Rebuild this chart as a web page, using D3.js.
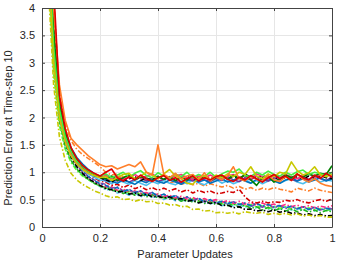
<!DOCTYPE html>
<html><head><meta charset="utf-8">
<script src="https://cdn.jsdelivr.net/npm/d3@7"></script>
<style>html,body{margin:0;padding:0;background:#fff;}svg{display:block;}</style>
</head><body>
<svg id="chart" width="341" height="263"></svg>
<script>
// ---- data ----
const xValues = [0.02,0.04,0.06,0.08,0.10,0.12,0.14,0.16,0.18,0.20,
  0.22,0.24,0.26,0.28,0.30,0.32,0.34,0.36,0.38,0.40,
  0.42,0.44,0.46,0.48,0.50,0.52,0.54,0.56,0.58,0.60,
  0.62,0.64,0.66,0.68,0.70,0.72,0.74,0.76,0.78,0.80,
  0.82,0.84,0.86,0.88,0.90,0.92,0.94,0.96,0.98,1.00];
const xTicks = [0,0.2,0.4,0.6,0.8,1];
const xTickLabels = ["0","0.2","0.4","0.6","0.8","1"];
const yTicks = [0,0.5,1,1.5,2,2.5,3,3.5,4];
const yTickLabels = ["0","0.5","1","1.5","2","2.5","3","3.5","4"];

// upper group
const redSolid = [7.5,4.4,2.4,1.8,1.45,1.25,1.12,1.04,0.98,0.93,
  1.0,1.06,0.9,0.84,0.92,0.86,0.95,0.88,0.83,0.9,
  0.94,0.85,0.9,0.82,0.88,0.93,0.84,0.9,0.86,0.92,
  0.95,0.87,0.83,0.91,0.86,0.94,0.88,0.82,0.9,0.96,
  0.88,0.93,0.85,0.97,0.9,0.86,0.95,0.89,0.98,0.91];
const orangeSolid = [6.8,4.0,2.6,1.95,1.62,1.5,1.4,1.3,1.22,1.14,
  1.1,1.12,1.06,1.1,1.14,1.1,1.19,1.0,0.95,1.5,
  0.96,0.9,0.98,0.88,0.93,0.96,0.86,0.99,0.84,0.92,
  0.86,0.94,1.1,0.88,0.84,0.93,0.87,0.83,0.94,0.86,
  0.83,0.92,0.85,0.97,0.87,0.82,0.88,0.8,0.76,0.74];
const yellowSolid = [5.2,3.0,2.0,1.55,1.3,1.15,1.05,0.98,0.94,0.9,
  0.92,0.85,0.9,0.96,0.98,0.88,0.93,1.0,0.95,0.88,
  0.97,1.05,0.93,0.88,0.8,0.78,0.9,0.94,0.86,0.95,
  0.9,0.97,0.92,1.0,0.96,1.1,0.93,0.88,0.97,0.92,
  1.0,0.97,1.19,1.03,0.95,0.99,1.1,0.95,0.92,0.96];
const limeSolid = [5.6,3.3,2.15,1.65,1.38,1.2,1.1,1.02,0.97,0.93,
  0.97,0.9,0.95,1.0,0.91,0.98,1.03,0.94,0.9,0.99,
  0.93,0.89,0.97,0.92,1.0,0.9,0.96,0.92,1.0,0.91,
  0.97,1.02,1.0,1.06,0.94,0.92,1.0,0.95,1.02,0.96,
  0.93,1.0,0.95,1.01,1.04,0.96,1.0,0.97,0.94,1.0];
const darkGreenSolid = [6.0,3.6,2.25,1.7,1.4,1.22,1.1,1.02,0.96,0.92,
  0.88,0.93,0.85,0.9,0.95,0.86,0.92,0.89,0.84,0.93,
  0.87,0.92,0.85,0.91,0.86,0.94,0.88,0.93,0.85,0.9,
  0.93,0.87,0.94,0.89,0.95,0.86,0.76,0.9,0.93,0.82,
  0.88,0.95,0.9,0.96,0.91,0.97,0.93,0.98,0.96,1.12];
const blackDashed = [6.2,3.7,2.3,1.72,1.42,1.23,1.1,1.0,0.94,0.9,
  0.86,0.82,0.9,0.84,0.88,0.92,0.85,0.89,0.86,0.92,
  0.87,0.91,0.85,0.9,0.93,0.86,0.91,0.94,0.88,0.92,
  0.95,0.89,0.93,0.87,0.96,0.92,0.88,0.94,0.9,0.87,
  0.93,0.89,0.86,0.92,0.88,0.93,0.89,0.94,0.9,0.88];
const blueSolid = [5.9,3.5,2.3,1.75,1.45,1.27,1.15,1.05,0.98,0.92,
  0.86,0.83,0.8,0.86,0.82,0.78,0.85,0.81,0.87,0.83,
  0.8,0.86,0.82,0.78,0.84,0.88,0.82,0.86,0.8,0.84,
  0.88,0.82,0.86,0.9,0.84,0.8,0.87,0.83,0.88,0.84,
  0.8,0.86,0.9,0.84,0.88,0.82,0.86,0.9,0.84,0.88];
const pinkSolid = [5.4,3.2,2.1,1.6,1.35,1.18,1.08,1.0,0.95,0.91,
  0.94,0.88,0.93,0.87,0.9,0.96,0.89,0.93,0.97,0.9,
  0.94,0.88,0.93,0.96,0.9,0.87,0.93,0.89,0.95,0.9,
  0.87,0.93,0.96,0.9,0.94,0.88,0.97,0.92,0.88,0.94,
  0.9,0.96,0.92,0.88,0.94,0.97,0.91,0.95,0.98,0.93];
const purpleSolid = [5.7,3.4,2.2,1.68,1.4,1.22,1.1,1.02,0.96,0.91,
  0.85,0.9,0.84,0.88,0.82,0.87,0.92,0.84,0.89,0.83,
  0.87,0.91,0.84,0.8,0.89,0.84,0.9,0.86,0.83,0.89,
  0.85,0.92,0.86,0.83,0.9,0.86,0.93,0.87,0.84,0.9,
  0.86,0.92,0.87,0.84,0.91,0.87,0.93,0.88,0.85,0.91];
const cyanSolid = [5.3,3.1,2.05,1.58,1.32,1.16,1.05,0.97,0.91,0.86,
  0.84,0.79,0.86,0.82,0.78,0.85,0.8,0.76,0.83,0.79,
  0.85,0.8,0.77,0.84,0.79,0.86,0.81,0.77,0.84,0.87,
  0.8,0.85,0.79,0.83,0.88,0.8,0.85,0.79,0.84,0.87,
  0.8,0.85,0.88,0.82,0.79,0.85,0.88,0.82,0.86,0.84];

// lower group
const redDashDot = [7.0,4.2,2.3,1.7,1.38,1.2,1.08,0.98,0.9,0.84,
  0.82,0.76,0.78,0.72,0.77,0.7,0.74,0.68,0.72,0.67,
  0.71,0.66,0.7,0.64,0.68,0.62,0.67,0.63,0.66,0.61,
  0.62,0.65,0.63,0.69,0.55,0.46,0.44,0.47,0.44,0.46,
  0.45,0.49,0.47,0.5,0.46,0.44,0.48,0.5,0.47,0.51];
const orangeDashDot = [6.5,3.9,2.5,1.88,1.58,1.42,1.32,1.25,1.18,1.1,
  1.0,0.95,0.97,0.91,0.93,0.88,0.9,0.84,0.88,0.83,
  0.86,0.8,0.84,0.78,0.81,0.77,0.8,0.75,0.79,0.76,
  0.73,0.76,0.71,0.74,0.69,0.72,0.67,0.71,0.68,0.72,
  0.69,0.67,0.64,0.71,0.68,0.66,0.71,0.67,0.65,0.63];
const yellowDashDot = [4.6,2.6,1.65,1.22,0.98,0.86,0.78,0.72,0.66,0.62,
  0.57,0.54,0.55,0.5,0.51,0.47,0.5,0.46,0.47,0.43,
  0.44,0.4,0.41,0.37,0.38,0.32,0.33,0.29,0.3,0.26,
  0.27,0.25,0.27,0.24,0.28,0.26,0.25,0.27,0.23,0.25,
  0.23,0.25,0.22,0.24,0.2,0.22,0.19,0.21,0.18,0.18];
const blackDashDot = [5.5,3.2,2.05,1.55,1.28,1.1,0.98,0.88,0.82,0.76,
  0.7,0.68,0.64,0.65,0.6,0.62,0.57,0.6,0.55,0.56,
  0.53,0.55,0.5,0.52,0.47,0.49,0.44,0.47,0.43,0.45,
  0.39,0.4,0.35,0.37,0.32,0.33,0.29,0.31,0.28,0.31,
  0.27,0.29,0.25,0.26,0.22,0.24,0.21,0.23,0.2,0.21];
const blueDashDot = [5.8,3.4,2.2,1.62,1.33,1.15,1.02,0.92,0.85,0.79,
  0.76,0.7,0.72,0.65,0.68,0.63,0.66,0.58,0.63,0.56,
  0.6,0.54,0.57,0.5,0.55,0.48,0.52,0.46,0.5,0.44,
  0.47,0.43,0.46,0.41,0.44,0.39,0.43,0.38,0.41,0.37,
  0.39,0.35,0.38,0.33,0.37,0.32,0.36,0.31,0.34,0.32];
const pinkDashDot = [5.6,3.3,2.15,1.6,1.3,1.13,1.0,0.91,0.84,0.78,
  0.73,0.74,0.67,0.69,0.64,0.66,0.61,0.63,0.58,0.6,
  0.56,0.58,0.53,0.56,0.51,0.54,0.49,0.52,0.47,0.5,
  0.45,0.48,0.43,0.47,0.42,0.45,0.4,0.44,0.39,0.42,
  0.38,0.41,0.37,0.4,0.36,0.39,0.35,0.38,0.36,0.39];
const greenDashDot = [5.2,3.0,1.95,1.48,1.22,1.06,0.95,0.87,0.8,0.75,
  0.72,0.66,0.68,0.61,0.65,0.58,0.62,0.55,0.59,0.53,
  0.55,0.51,0.53,0.47,0.52,0.45,0.48,0.43,0.46,0.41,
  0.44,0.39,0.42,0.36,0.4,0.34,0.37,0.31,0.36,0.3,
  0.34,0.29,0.33,0.28,0.32,0.27,0.31,0.26,0.3,0.28];
const limeDashDot = [4.9,2.8,1.85,1.42,1.18,1.03,0.93,0.86,0.8,0.75,
  0.7,0.72,0.65,0.68,0.61,0.66,0.59,0.62,0.55,0.6,
  0.53,0.56,0.51,0.54,0.47,0.52,0.45,0.5,0.43,0.48,
  0.42,0.45,0.4,0.43,0.38,0.41,0.36,0.39,0.34,0.37,
  0.34,0.37,0.32,0.36,0.31,0.35,0.3,0.34,0.3,0.33];
const purpleDashDot = [5.7,3.35,2.2,1.64,1.34,1.16,1.03,0.93,0.86,0.8,
  0.78,0.71,0.73,0.66,0.69,0.62,0.66,0.6,0.63,0.56,
  0.6,0.53,0.58,0.5,0.55,0.48,0.53,0.46,0.5,0.44,
  0.47,0.42,0.46,0.4,0.43,0.38,0.42,0.36,0.41,0.35,
  0.39,0.34,0.38,0.33,0.37,0.32,0.36,0.31,0.35,0.33];
const cyanDashDot = [5.1,2.95,1.9,1.45,1.2,1.05,0.95,0.87,0.8,0.74,
  0.68,0.69,0.62,0.65,0.58,0.63,0.55,0.59,0.53,0.57,
  0.5,0.55,0.48,0.51,0.46,0.5,0.44,0.47,0.42,0.46,
  0.39,0.43,0.38,0.41,0.36,0.39,0.34,0.38,0.33,0.36,
  0.33,0.36,0.31,0.35,0.3,0.34,0.29,0.33,0.3,0.32];

// ---- styles (separate from data) ----
const DASHDOT = "5,2,1.5,2", DASHED = "4,2.5";
const seriesList = [
  {values: cyanDashDot,   color: "#4DBEEE", dash: DASHDOT},
  {values: limeDashDot,   color: "#66ff33", dash: DASHDOT},
  {values: greenDashDot,  color: "#1fb51f", dash: DASHDOT},
  {values: purpleDashDot, color: "#8e44ad", dash: DASHDOT},
  {values: pinkDashDot,   color: "#ff2a7f", dash: DASHDOT},
  {values: blueDashDot,   color: "#0072BD", dash: DASHDOT},
  {values: blackDashDot,  color: "#000000", dash: DASHDOT},
  {values: yellowDashDot, color: "#c8c800", dash: DASHDOT},
  {values: orangeDashDot, color: "#ff7f2a", dash: DASHDOT},
  {values: redDashDot,    color: "#d40000", dash: DASHDOT},
  {values: cyanSolid,     color: "#4DBEEE", dash: null},
  {values: purpleSolid,   color: "#7E2F8E", dash: null},
  {values: blueSolid,     color: "#0072BD", dash: null},
  {values: blackDashed,   color: "#000000", dash: DASHED},
  {values: pinkSolid,     color: "#ff2a7f", dash: null},
  {values: darkGreenSolid,color: "#008000", dash: null},
  {values: limeSolid,     color: "#44ee44", dash: null},
  {values: yellowSolid,   color: "#c8c800", dash: null},
  {values: orangeSolid,   color: "#ff7f2a", dash: null},
  {values: redSolid,      color: "#e00000", dash: null}
];

// ---- layout ----
const svg = d3.select("#chart");
const mLeft = 42, mRight = 332, mTop = 8, mBottom = 227;
const x = d3.scaleLinear().domain([0,1]).range([mLeft,mRight]);
const y = d3.scaleLinear().domain([0,4]).range([mBottom,mTop]);
const font = "'Liberation Sans', Arial, sans-serif";
const axisColor = "#444";
const textColor = "#262626";

// grid
const grid = svg.append("g");
grid.selectAll("line.gx").data(xTicks).join("line")
  .attr("x1", d=>x(d)).attr("x2", d=>x(d)).attr("y1", mTop).attr("y2", mBottom)
  .attr("stroke", "#e6e6e6").attr("stroke-width", 1).attr("shape-rendering","crispEdges");
grid.selectAll("line.gy").data(yTicks).join("line")
  .attr("y1", d=>y(d)).attr("y2", d=>y(d)).attr("x1", mLeft).attr("x2", mRight)
  .attr("stroke", "#e6e6e6").attr("stroke-width", 1).attr("shape-rendering","crispEdges");

// clip
svg.append("clipPath").attr("id","clip").append("rect")
  .attr("x", mLeft).attr("y", mTop).attr("width", mRight-mLeft).attr("height", mBottom-mTop);

const line = d3.line().x((d,i)=>x(xValues[i])).y(d=>y(d));
const lines = svg.append("g").attr("clip-path","url(#clip)");
seriesList.forEach(s => {
  lines.append("path").attr("d", line(s.values))
    .attr("fill","none").attr("stroke", s.color).attr("stroke-width", 1.6)
    .attr("stroke-linejoin","round")
    .attr("stroke-dasharray", s.dash);
});

// axes (MATLAB style: ticks inside, box)
const axB = d3.axisBottom(x).tickValues(xTicks).tickFormat((d,i)=>xTickLabels[i]).tickSizeInner(-3).tickSizeOuter(0).tickPadding(7);
const axL = d3.axisLeft(y).tickValues(yTicks).tickFormat((d,i)=>yTickLabels[i]).tickSizeInner(-3).tickSizeOuter(0).tickPadding(7);
const axT = d3.axisTop(x).tickValues(xTicks).tickFormat("").tickSizeInner(-3).tickSizeOuter(0);
const axR = d3.axisRight(y).tickValues(yTicks).tickFormat("").tickSizeInner(-3).tickSizeOuter(0);
function style(g){
  g.selectAll("path.domain").attr("stroke", axisColor);
  g.selectAll(".tick line").attr("stroke", axisColor);
  g.selectAll("text").attr("fill", textColor).style("font-family", font).style("font-size","11px");
}
svg.append("g").attr("transform",`translate(0,${mBottom})`).call(axB).call(style);
svg.append("g").attr("transform",`translate(${mLeft},0)`).call(axL).call(style);
svg.append("g").attr("transform",`translate(0,${mTop})`).call(axT).call(style);
svg.append("g").attr("transform",`translate(${mRight},0)`).call(axR).call(style);

// axis labels
svg.append("text").attr("x", (mLeft+mRight)/2 - 2).attr("y", 258)
  .attr("text-anchor","middle").attr("fill", textColor)
  .style("font-family", font).style("font-size","11px").text("Parameter Updates");
svg.append("text").attr("transform",`translate(12,128) rotate(-90)`)
  .attr("text-anchor","middle").attr("fill", textColor)
  .style("font-family", font).style("font-size","11px").text("Prediction Error at Time-step 10");
</script>
</body></html>
